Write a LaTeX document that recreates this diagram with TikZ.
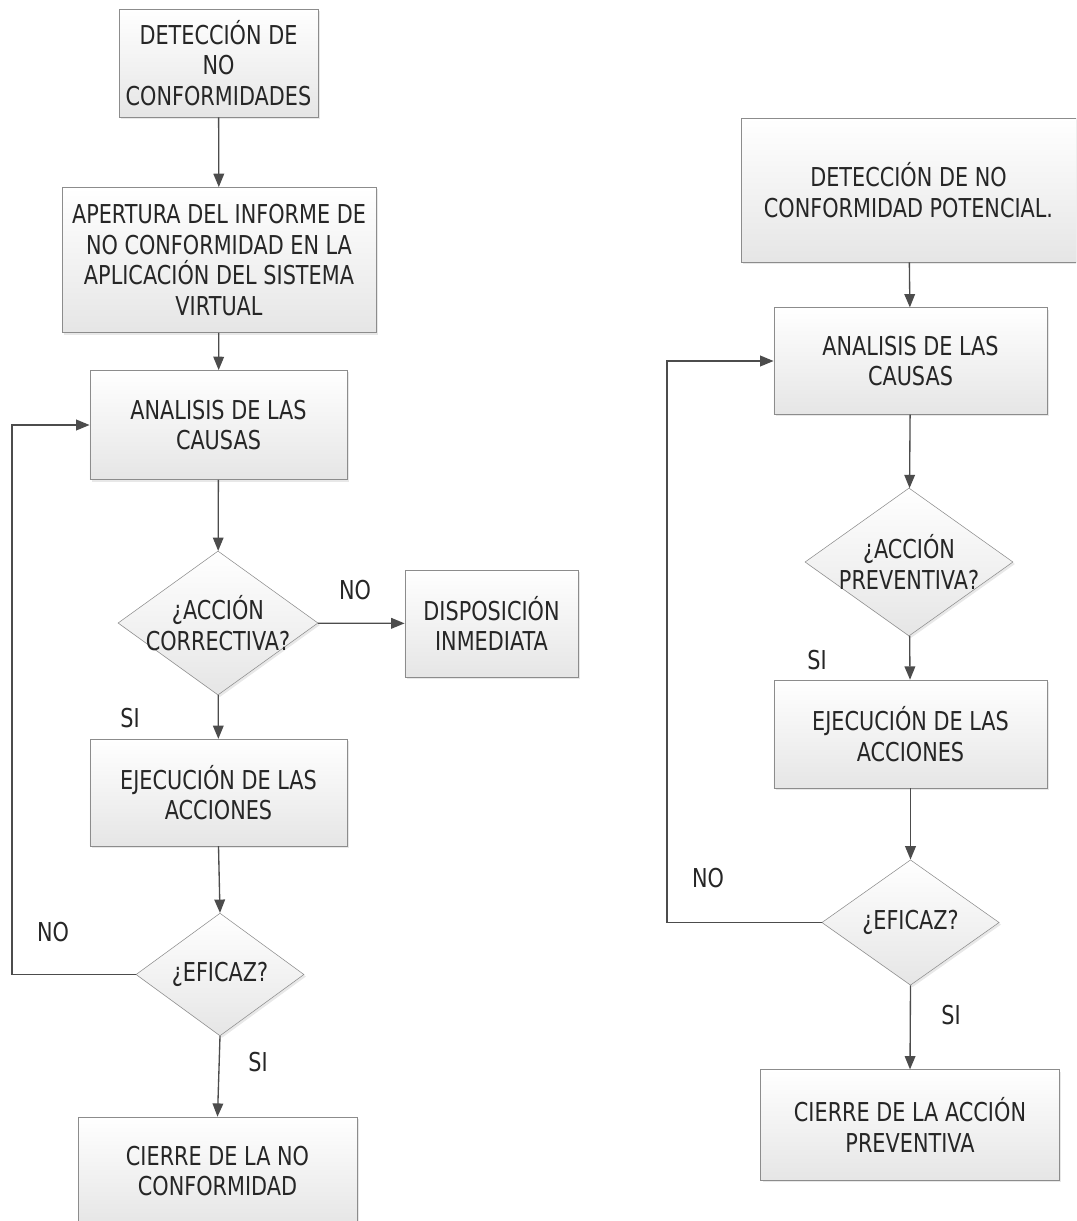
\documentclass[tikz,border=0pt]{standalone}
\usepackage{fontspec}
\setmainfont{DejaVu Sans}[FakeStretch=0.8]
\usetikzlibrary{shapes.geometric,arrows.meta,shadows}

\tikzset{
  caja/.style={draw=black!45, top color=white, bottom color=black!10,
    align=center, inner sep=0pt, text=black!85,
    font=\fontsize{19.5}{23}\selectfont,
    drop shadow={shadow xshift=1.5pt, shadow yshift=-1.5pt, fill=black!18}},
  rombo/.style={caja, diamond},
  texto/.style={align=center, inner sep=0pt, text=black!85, font=\fontsize{19.5}{23}\selectfont},
  flecha/.style={draw=black!70, line width=1pt, -{Triangle[length=10pt,width=8pt]}},
  linea/.style={draw=black!70, line width=1pt}
}

\begin{document}
\begin{tikzpicture}[x=0.75pt, y=-0.75pt]
\useasboundingbox (0,0) rectangle (1076,1221);
\clip (0,0) rectangle (1076,1221);

% no conformidad
\node[caja, minimum width=149pt, minimum height=81pt] (detL) at (218.5,63) {DETECCIÓN DE\\NO\\CONFORMIDADES};
\node[caja, minimum width=235.5pt, minimum height=109pt] (aper) at (219,260) {APERTURA DEL INFORME DE\\NO CONFORMIDAD EN LA\\APLICACIÓN DEL SISTEMA\\VIRTUAL};
\node[caja, minimum width=193pt, minimum height=82pt] (analL) at (218.5,425) {ANALISIS DE LAS\\CAUSAS};
\node[rombo, minimum width=150pt, minimum height=108pt] (corr) at (218,623) {};
\node[texto] (corrT) at (corr) {¿ACCIÓN\\CORRECTIVA?};
\node[caja, minimum width=130pt, minimum height=80pt] (disp) at (491.5,623.5) {DISPOSICIÓN\\INMEDIATA};
\node[caja, minimum width=193pt, minimum height=80pt] (ejecL) at (218.5,792.5) {EJECUCIÓN DE LAS\\ACCIONES};
\node[rombo, minimum width=126pt, minimum height=92pt] (eficL) at (220,974.5) {};
\node[texto] (eficLT) at (eficL) {¿EFICAZ?};
\node[caja, minimum width=209pt, minimum height=81pt] (cierL) at (217.5,1171) {CIERRE DE LA NO\\CONFORMIDAD};

\coordinate (vueltaL) at (12,974.5);
\draw[flecha] (detL) -- (aper);
\draw[flecha] (aper) -- (analL);
\draw[flecha] (analL) -- (corr);
\draw[flecha] (corr) -- (disp);
\draw[flecha] (corr) -- (ejecL);
\draw[flecha] (ejecL.south) -- (eficL.north);
\draw[flecha] (eficL.south) -- (cierL.north);
\draw[flecha] (eficL.west) -- (vueltaL) |- (analL.west);

\node[texto] (noA) at (355,590) {NO};
\node[texto] (siA) at (130,718) {SI};
\node[texto] (noB) at (53,932) {NO};
\node[texto] (siB) at (258,1062) {SI};

% no conformidad potencial
\node[caja, minimum width=251pt, minimum height=108pt] (detR) at (908.5,190) {DETECCIÓN DE NO\\CONFORMIDAD POTENCIAL.};
\node[caja, minimum width=205pt, minimum height=80pt] (analR) at (910.5,361) {ANALISIS DE LAS\\CAUSAS};
\node[rombo, minimum width=156pt, minimum height=111pt] (prev) at (909,562) {};
\node[texto] (prevT) at (prev) {¿ACCIÓN\\PREVENTIVA?};
\node[caja, minimum width=205pt, minimum height=81pt] (ejecR) at (910.5,734) {EJECUCIÓN DE LAS\\ACCIONES};
\node[rombo, minimum width=133pt, minimum height=94pt] (eficR) at (910.5,922.5) {};
\node[texto] (eficRT) at (eficR) {¿EFICAZ?};
\node[caja, minimum width=224pt, minimum height=83pt] (cierR) at (910,1125) {CIERRE DE LA ACCIÓN\\PREVENTIVA};

\coordinate (vueltaR) at (667,922.5);
\draw[flecha] (detR) -- (analR);
\draw[flecha] (analR) -- (prev);
\draw[flecha] (prev) -- (ejecR);
\draw[flecha] (ejecR.south) -- (eficR.north);
\draw[flecha] (eficR.south) -- (cierR.north);
\draw[flecha] (eficR.west) -- (vueltaR) |- (analR.west);

\node[texto] (siC) at (817,660) {SI};
\node[texto] (noC) at (708,878) {NO};
\node[texto] (siD) at (951,1015) {SI};
\end{tikzpicture}
\end{document}
